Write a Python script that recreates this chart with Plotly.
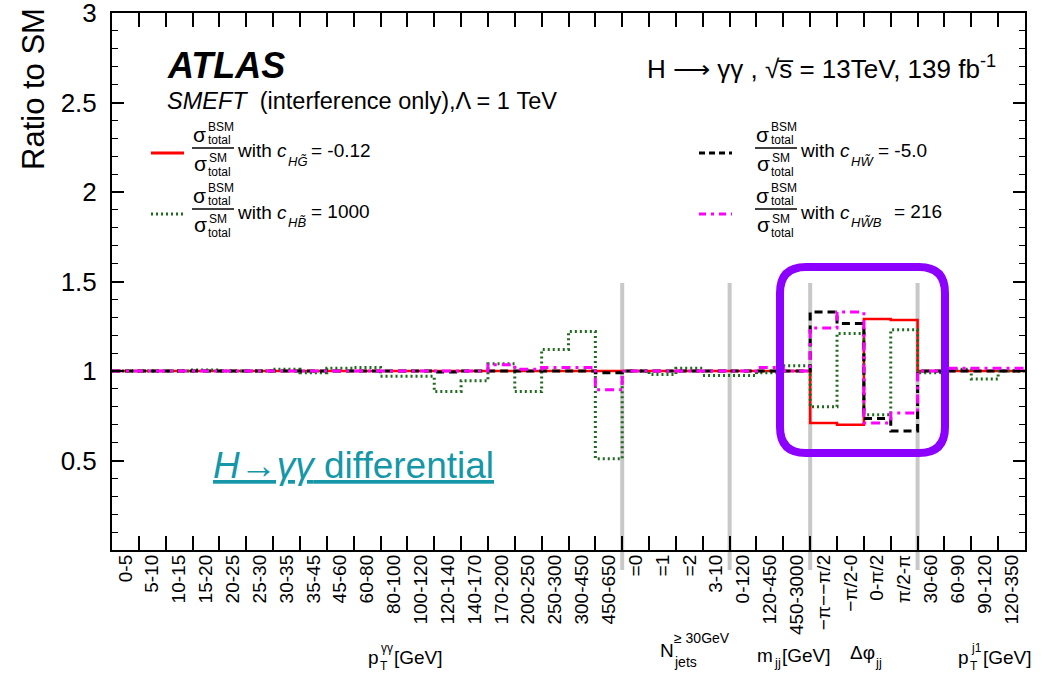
import plotly.graph_objects as go

# ---------------- data ----------------
labels_pt = ["0-5", "5-10", "10-15", "15-20", "20-25", "25-30", "30-35", "35-45", "45-60",
             "60-80", "80-100", "100-120", "120-140", "140-170", "170-200", "200-250",
             "250-300", "300-450", "450-650"]
labels_nj = ["=0", "=1", "=2", "3-10"]
labels_mjj = ["0-120", "120-450", "450-3000"]
labels_dphi = ["−π−−π/2", "−π/2-0", "0-π/2", "π/2-π"]
labels_ptj1 = ["30-60", "60-90", "90-120", "120-350"]
tick_labels = labels_pt + labels_nj + labels_mjj + labels_dphi + labels_ptj1

ratio_HG = [1.0, 1.0, 1.0, 1.0, 1.0, 1.0, 1.0, 1.0, 1.0, 1.0, 1.0, 1.0, 1.0, 1.0, 1.0, 1.0,
            1.0, 1.0, 1.0, 1.0, 1.0, 1.0, 1.0, 1.0, 1.0, 1.0, 0.71, 0.70, 1.29, 1.285,
            1.0, 1.0, 1.0, 1.0]
ratio_HB = [1.0, 1.0, 1.0, 1.005, 1.0, 1.0, 1.01, 0.99, 1.015, 1.02, 0.97, 0.97, 0.885,
            0.945, 1.04, 0.885, 1.12, 1.22, 0.51, 1.0, 0.98, 1.015, 0.975, 0.975, 0.99,
            1.03, 0.80, 1.21, 0.755, 1.23, 0.99, 1.01, 0.955, 1.0]
ratio_HW = [1.0, 1.0, 1.0, 1.0, 1.0, 1.0, 1.0, 1.0, 1.0, 1.0, 1.0, 1.0, 0.995, 1.0, 1.0,
            1.0, 1.0, 1.0, 0.99, 1.0, 1.0, 1.0, 1.0, 1.0, 1.0, 1.0, 1.33, 1.265, 0.735,
            0.665, 1.0, 1.0, 1.0, 1.0]
ratio_HWB = [1.0, 1.0, 1.0, 1.0, 1.0, 1.0, 1.0, 1.0, 1.0, 1.0, 1.0, 1.0, 1.0, 1.0, 1.035,
             1.01, 1.02, 1.02, 0.895, 1.0, 1.0, 1.0, 1.0, 1.0, 1.02, 1.0, 1.24, 1.33, 0.71,
             0.765, 1.0, 1.015, 1.015, 1.015]
separator_edges = [19, 23, 26, 30]

# ---------------- geometry helpers ----------------
W, H = 1041, 673
L, R, T, B = 112, 16, 13, 123
PW, PH = W - L - R, H - T - B
FONT = "Liberation Sans, Arial, Helvetica, sans-serif"


def px(x):
    return (x - L) / PW


def py(y):
    return (H - B - y) / PH


annotations = []
shapes = []


def ann(text, x, y, size, xanchor="left", yanchor="middle", color="black", angle=0):
    annotations.append(dict(xref="paper", yref="paper", x=px(x), y=py(y), text=text,
                            showarrow=False, xanchor=xanchor, yanchor=yanchor,
                            textangle=angle, borderpad=0,
                            font=dict(size=size, color=color, family=FONT)))


def pline(x0, y0, x1, y1, color="black", width=1.2, dash="solid"):
    shapes.append(dict(type="line", xref="paper", yref="paper", x0=px(x0), y0=py(y0),
                       x1=px(x1), y1=py(y1), line=dict(color=color, width=width, dash=dash)))


n = len(tick_labels)
edges = list(range(n + 1))
centers = [i + 0.5 for i in range(n)]

styles = [
    (ratio_HG, "#ff0000", 2.5, "solid"),
    (ratio_HB, "#1f6a1f", 3, "2px,3px"),
    (ratio_HW, "#000000", 3, "8px,5px"),
    (ratio_HWB, "#ff00ff", 3, "9px,5px,3px,5px"),
]

fig = go.Figure()
for vals, col, wd, dash in styles:
    fig.add_trace(go.Scatter(x=edges, y=vals + [vals[-1]], mode="lines", line_shape="hv",
                             line=dict(color=col, width=wd, dash=dash),
                             showlegend=False, hoverinfo="skip"))
# invisible trace for label axis
fig.add_trace(go.Scatter(x=centers, y=[1] * n, xaxis="x2", mode="markers",
                         marker=dict(opacity=0), showlegend=False, hoverinfo="skip"))

# separators (gray)
for e in separator_edges:
    shapes.append(dict(type="line", xref="paper", yref="paper", x0=e / n, x1=e / n,
                       y0=py(283), y1=py(570), line=dict(color="#c8c8c8", width=4),
                       layer="below"))

# purple rounded box
x0, x1, y0, y1, r = 780, 945, 267, 453, 26
pts = [("M", x0 + r, y0), ("L", x1 - r, y0), ("Q", x1, y0, x1, y0 + r), ("L", x1, y1 - r),
       ("Q", x1, y1, x1 - r, y1), ("L", x0 + r, y1), ("Q", x0, y1, x0, y1 - r),
       ("L", x0, y0 + r), ("Q", x0, y0, x0 + r, y0)]
path = ""
for p in pts:
    cmd = p[0]
    coords = p[1:]
    s = []
    for i in range(0, len(coords), 2):
        s.append(f"{px(coords[i]):.5f},{py(coords[i+1]):.5f}")
    path += cmd + " ".join(s) + " "
path += "Z"
shapes.append(dict(type="path", xref="paper", yref="paper", path=path,
                   line=dict(color="#8c00ff", width=8)))

# ---------------- texts ----------------
ann("Ratio to SM", 34, 89, 31, xanchor="center", angle=-90)
ann("<b><i>ATLAS</i></b>", 166, 66, 36)
ann("<i>SMEFT</i>  (interference only),Λ = 1 TeV", 166, 101, 23.5)
ann("H ⟶ γγ , √s\u0305 = 13TeV, 139 fb<sup>-1</sup>", 646, 67, 26)


def legend_entry(xl, fx, yl, color, dash, sub, val, eq_off):
    pline(xl, yl, xl + 33, yl, color=color, width=3, dash=dash)
    fy = yl - 5
    pline(fx, fy, fx + 42, fy, width=1.3)
    ann("σ", fx + 7, fy - 14, 21, xanchor="center")
    ann("BSM", fx + 15, fy - 21, 12)
    ann("total", fx + 15, fy - 8, 12)
    ann("σ", fx + 8, fy + 15, 21, xanchor="center")
    ann("SM", fx + 16, fy + 10, 12)
    ann("total", fx + 15, fy + 24, 12)
    ann("with <i>c</i>", fx + 44, fy + 3, 19)
    ann(sub, fx + 95, fy + 13, 13)
    ann("= " + val, fx + eq_off, fy + 2, 19)


legend_entry(151, 192, 153, "#ff0000", "solid", "<i>HG\u0303</i>", "-0.12", 118)
legend_entry(151, 192, 214, "#1f6a1f", "2px,3px", "<i>HB\u0303</i>", "1000", 118)
legend_entry(699, 755, 153, "#000000", "6px,4px", "<i>HW\u0303</i>", "-5.0", 122)
legend_entry(699, 755, 214, "#ff00ff", "7px,5px,3px,5px", "<i>HW\u0303B</i>", "216", 138)

# teal underlined note
ann("<u><i>H→γγ</i> differential</u>", 212, 465, 37, color="#1597a8")

# bottom axis titles
ann("p", 367, 657, 19)
ann("γγ", 380, 648, 12)
ann("T", 379, 666, 12)
ann("[GeV]", 393, 657, 19)

ann("N", 659, 650, 19)
ann("≥ 30GeV", 673, 638, 14)
ann("jets", 673, 662, 14)

ann("m", 756, 655, 19)
ann("jj", 773, 662, 13)
ann("[GeV]", 781, 655, 19)

ann("Δφ", 849, 652, 19)
ann("jj", 874, 662, 13)

ann("p", 957, 657, 19)
ann("j1", 970, 648, 12)
ann("T", 969, 666, 12)
ann("[GeV]", 982, 657, 19)

minor_vals = [i / 10 for i in range(1, 30) if i % 5 != 0]

fig.update_layout(
    width=W, height=H,
    margin=dict(l=L, r=R, t=T, b=B, pad=0, autoexpand=False),
    paper_bgcolor="white", plot_bgcolor="white",
    font=dict(family=FONT, color="black"),
    xaxis=dict(range=[0, n], tickvals=edges, showticklabels=False, ticks="inside",
               ticklen=14, tickwidth=1.5, tickcolor="black", mirror="ticks",
               showline=True, linewidth=2, linecolor="black", showgrid=False,
               zeroline=False, automargin=False),
    xaxis2=dict(range=[0, n], overlaying="x", anchor="y", side="bottom",
                tickvals=centers, ticktext=tick_labels, tickangle=-90, ticks="",
                showline=False, showgrid=False, zeroline=False, automargin=False,
                tickfont=dict(size=19, family=FONT, color="black")),
    yaxis=dict(range=[0, 3], tickvals=[0.5, 1, 1.5, 2, 2.5, 3],
               ticktext=["0.5", "1", "1.5", "2", "2.5", "3"], ticks="inside", ticklen=12,
               tickwidth=1.5, tickcolor="black", mirror="ticks", showline=True,
               linewidth=2, linecolor="black", showgrid=False, zeroline=False,
               automargin=False,
               tickfont=dict(size=26, family=FONT, color="black"),
               ticklabelstandoff=8, ticklabeloverflow="allow",
               minor=dict(tickvals=minor_vals, ticks="inside", ticklen=6, tickwidth=1.2,
                          tickcolor="black", showgrid=False)),
    annotations=annotations,
    shapes=shapes,
)

fig.write_html("out.html")
